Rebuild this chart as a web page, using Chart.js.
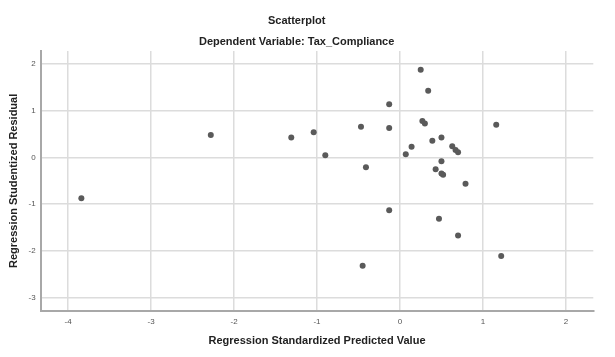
<!DOCTYPE html>
<html>
<head>
<meta charset="utf-8">
<script src="https://cdn.jsdelivr.net/npm/chart.js@4/dist/chart.umd.min.js"></script>
<style>
  html, body { margin: 0; padding: 0; background: #fff; }
  #wrap { width: 615px; height: 357px; position: relative; }
</style>
</head>
<body>
<div id="wrap"><canvas id="c" width="615" height="357"></canvas></div>
<script>
const predictedValues = [-3.84, -2.28, -1.31, -1.04, -0.90, -0.47, -0.41, -0.13, -0.13, -0.13, -0.45, 0.07, 0.14,
  0.25, 0.34, 0.27, 0.30, 0.39, 0.50, 0.63, 0.67, 0.70, 0.50, 0.43, 0.50, 0.52, 0.79, 1.16, 0.47, 0.70, 1.22];
const studentizedResiduals = [-0.87, 0.48, 0.43, 0.54, 0.05, 0.66, -0.21, 1.14, 0.63, -1.13, -2.32, 0.07, 0.23,
  1.88, 1.43, 0.78, 0.73, 0.36, 0.43, 0.24, 0.16, 0.11, -0.08, -0.25, -0.34, -0.37, -0.56, 0.70, -1.31, -1.67, -2.11];
const xTicks = [-4, -3, -2, -1, 0, 1, 2];
const yTicks = [-3, -2, -1, 0, 1, 2];

const points = predictedValues.map((x, i) => ({ x: x, y: studentizedResiduals[i] }));
const FONT = "'Liberation Sans', Arial, sans-serif";

new Chart(document.getElementById('c'), {
  type: 'scatter',
  data: {
    datasets: [{
      data: points,
      backgroundColor: '#5a5a5a',
      borderColor: '#5a5a5a',
      borderWidth: 0,
      pointRadius: 3,
      pointHoverRadius: 3
    }]
  },
  options: {
    responsive: false,
    animation: false,
    devicePixelRatio: 1,
    layout: { padding: { left: 0, right: 21.7, top: 0, bottom: 0 } },
    plugins: {
      legend: { display: false },
      tooltip: { enabled: false },
      title: {
        display: true,
        text: 'Scatterplot',
        color: '#222',
        font: { family: FONT, size: 11, weight: 'bold' },
        padding: { top: 14.1, bottom: 0 }
      },
      subtitle: {
        display: true,
        text: 'Dependent Variable: Tax_Compliance',
        color: '#222',
        font: { family: FONT, size: 11, weight: 'bold' },
        padding: { top: 8.4, bottom: 2.1 }
      }
    },
    scales: {
      x: {
        type: 'linear',
        min: -4.33,
        max: 2.33,
        afterBuildTicks: s => { s.ticks = xTicks.map(v => ({ value: v })); },
        afterFit: s => { s.height = 46.3; },
        grid: { color: '#dcdcdc', lineWidth: 1.5, drawTicks: false },
        border: { display: true, color: '#a8a8a8', width: 2 },
        ticks: { color: '#555', font: { family: FONT, size: 8 }, padding: 6, maxRotation: 0 },
        title: {
          display: true,
          text: 'Regression Standardized Predicted Value',
          color: '#222',
          font: { family: FONT, size: 11, weight: 'bold' },
          padding: { top: 0, bottom: 9.7 }
        }
      },
      y: {
        type: 'linear',
        min: -3.28,
        max: 2.28,
        afterBuildTicks: s => { s.ticks = yTicks.map(v => ({ value: v })); },
        afterFit: s => { s.width = 40.7; },
        grid: { color: '#dcdcdc', lineWidth: 1.5, drawTicks: false },
        border: { display: true, color: '#a8a8a8', width: 2 },
        ticks: { color: '#555', font: { family: FONT, size: 8 }, padding: 5 },
        title: {
          display: true,
          text: 'Regression Studentized Residual',
          color: '#222',
          font: { family: FONT, size: 11, weight: 'bold' },
          padding: { top: 7.4, bottom: 0 }
        }
      }
    }
  }
});
</script>
</body>
</html>
